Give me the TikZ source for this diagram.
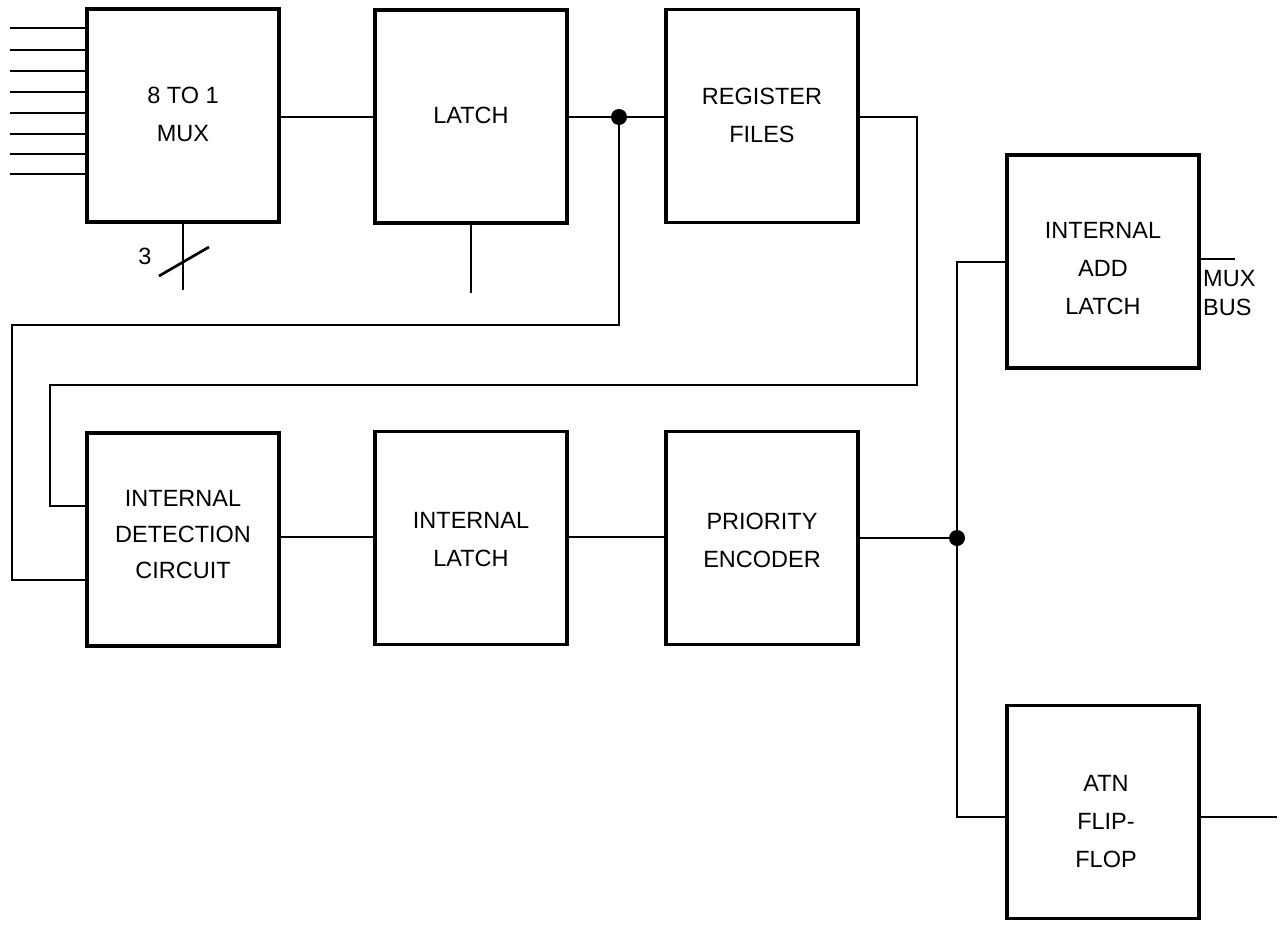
\documentclass[tikz,border=0pt]{standalone}
\usepackage{fontspec}
\setmainfont{Liberation Sans}
\usetikzlibrary{calc}
\tikzset{
  blk/.style={draw, line width=3.8pt, minimum width=192pt, minimum height=213pt, inner sep=0pt},
  txt/.style={align=center, inner sep=0pt, font=\fontsize{23.5}{38}\selectfont},
  wire/.style={line width=2.7pt},
  jdot/.style={circle, fill=black, inner sep=0pt, minimum size=16pt},
  lbl/.style={font=\fontsize{23.5}{29}\selectfont, inner sep=0pt}
}
\begin{document}
\begin{tikzpicture}[x=1pt,y=-1pt]
\useasboundingbox (0,0) rectangle (1282,924);
% blocks
\node[blk, label={[txt, yshift=1pt]center:8 TO 1\\MUX}] (mux) at (183,115.5) {};
\node[blk, label={[txt, yshift=1pt]center:LATCH}] (latch) at (471,116.5) {};
\node[blk, label={[txt, yshift=1pt]center:REGISTER\\FILES}] (reg) at (762,116) {};
\node[blk, label={[txt, yshift=-7pt]center:INTERNAL\\ADD\\LATCH}] (add) at (1103,261.5) {};
\node[blk, label={[txt, yshift=5pt, font=\fontsize{23.5}{36}\selectfont]center:INTERNAL\\DETECTION\\CIRCUIT}] (det) at (183,539.5) {};
\node[blk, label={[txt, yshift=-2pt]center:INTERNAL\\LATCH}] (ilat) at (471,538) {};
\node[blk, label={[txt, yshift=-2pt]center:PRIORITY\\ENCODER}] (pri) at (762,538) {};
\node[blk, label={[txt, yshift=-10pt, xshift=3pt]center:ATN\\FLIP-\\FLOP}] (atn) at (1103,812) {};
% junctions
\node[jdot] (j1) at (619,117) {};
\node[jdot] (j2) at (957,538) {};
% mux inputs
\foreach \i/\yy in {1/28,2/50,3/71,4/92,5/113,6/134,7/154,8/174}{
  \coordinate (in\i) at (10,\yy);
  \draw[wire] (in\i) -- (in\i -| mux.west);
}
% mux select
\coordinate (sel) at (183,290);
\draw[wire] (mux.south) -- (sel);
\coordinate (slA) at (159,276);
\coordinate (slB) at (209,247);
\draw[wire] (slA) -- (slB);
\node[lbl] (three) at (145,256) {3};
% latch stub
\coordinate (lstub) at (471,293);
\draw[wire] (latch.south) -- (lstub);
% chain top
\draw[wire] (mux.east |- 0,117) -- (latch.west |- 0,117);
\draw[wire] (latch.east |- 0,117) -- (j1) -- (reg.west |- 0,117);
% feedback from junction 1
\coordinate (f1) at (619,325);
\coordinate (f2) at (12,325);
\coordinate (f3) at (12,580);
\draw[wire] (j1) -- (f1) -- (f2) -- (f3) -- (det.west |- f3);
% register files out
\coordinate (r1) at (917,117);
\coordinate (r2) at (917,385);
\coordinate (r3) at (50,385);
\coordinate (r4) at (50,506);
\draw[wire] (reg.east |- r1) -- (r1) -- (r2) -- (r3) -- (r4) -- (det.west |- r4);
% bottom chain
\draw[wire] (det.east |- 0,537) -- (ilat.west |- 0,537);
\draw[wire] (ilat.east |- 0,537) -- (pri.west |- 0,537);
\draw[wire] (pri.east |- j2) -- (j2);
% to add latch and ATN
\coordinate (u1) at (957,262);
\coordinate (d1) at (957,817);
\draw[wire] (j2) -- (u1) -- (add.west |- u1);
\draw[wire] (j2) -- (d1) -- (atn.west |- d1);
% outputs
\coordinate (mb) at (1235,259);
\draw[wire] (add.east |- mb) -- (mb);
\node[lbl, anchor=west, align=left] (muxbus) at (1203,293) {MUX\\BUS};
\coordinate (ao) at (1277,817);
\draw[wire] (atn.east |- ao) -- (ao);
\end{tikzpicture}
\end{document}
